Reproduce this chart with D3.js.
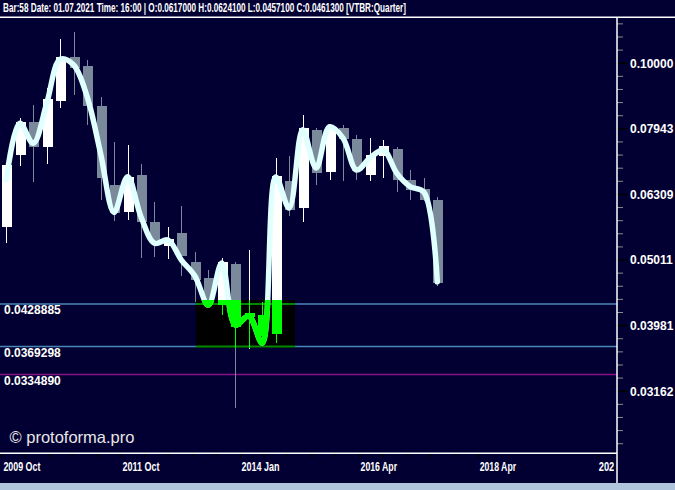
<!DOCTYPE html>
<html><head><meta charset="utf-8">
<script src="https://cdn.jsdelivr.net/npm/d3@7"></script>
<style>
html,body{margin:0;padding:0;background:#020032;}
svg{display:block;}
text{font-family:"Liberation Sans",Arial,sans-serif;}
</style></head>
<body><svg id="c" width="675" height="490"></svg>
<script>
// ---------- data ----------
const ticker = "VTBR", period = "Quarter";
const lastBarNo = 58, lastDate = "01.07.2021", lastTime = "16:00";
const opens  = [0.05623,0.07241,0.08129,0.07435,0.08751,0.10213,0.09885,0.08590,0.06517,0.05913,0.06750,0.05710,0.05255,0.05506,0.04973,0.04702,0.04272,0.04933,0.04096,0.04125,0.03854,0.06609,0.06006,0.07905,0.06805,0.07943,0.07659,0.06750,0.07198,0.07395,0.06633,0.06426,0.06170];
const highs  = [0.06974,0.08226,0.08620,0.09150,0.10867,0.11126,0.10095,0.08856,0.07571,0.07500,0.07016,0.06125,0.05612,0.06039,0.05151,0.04830,0.05038,0.04968,0.05182,0.04322,0.07158,0.07216,0.08323,0.07943,0.08064,0.08035,0.07768,0.07669,0.07632,0.07439,0.06870,0.06672,0.06241];
const lows   = [0.05305,0.06950,0.06570,0.07016,0.08521,0.08928,0.08035,0.06176,0.05730,0.05764,0.05033,0.05051,0.05015,0.04730,0.04317,0.04227,0.04125,0.02973,0.03657,0.03778,0.03735,0.05831,0.05723,0.06517,0.06633,0.06593,0.06633,0.06593,0.06672,0.06344,0.06166,0.06146,0.04571];
const closes = [0.06974,0.08129,0.07447,0.08803,0.10213,0.09816,0.08590,0.06679,0.05907,0.06702,0.05710,0.05329,0.05380,0.05074,0.04664,0.04302,0.04968,0.03959,0.04154,0.03831,0.06719,0.05970,0.07943,0.06798,0.07987,0.07659,0.06829,0.07241,0.07465,0.06633,0.06404,0.06170,0.04613];
const smooth = [0.06633,0.08084,0.07536,0.08671,0.10120,0.09920,0.08875,0.07277,0.05913,0.06702,0.05824,0.05305,0.05367,0.05003,0.04730,0.04272,0.04951,0.03982,0.04110,0.03739,0.06695,0.06005,0.07905,0.06910,0.07987,0.07677,0.06862,0.07158,0.07361,0.06782,0.06471,0.06352,0.04636];

const levelValues = [0.0428885, 0.0369298, 0.0334890];
const levelLabels = ["0.0428885", "0.0369298", "0.0334890"];
const levelColors = ["#4a86b8", "#4a86b8", "#8a108a"];

// zone: bar-index range and price range
const zoneFrom = 14.08, zoneTo = 21.42, zoneHi = 0.04348, zoneLo = 0.03674;

const yTickValues = [0.1, 0.0794328, 0.0630957, 0.0501187, 0.0398107, 0.0316228];
const yTickLabels = ["0.10000", "0.07943", "0.06309", "0.05011", "0.03981", "0.03162"];
const priceMin = 0.025387, priceMax = 0.117;

const xTickLabels = ["2009 Oct", "2011 Oct", "2014 Jan", "2016 Apr", "2018 Apr", "2020 Jul"];
const xTickWidths = [37, 37, 38, 36.5, 36.5, 37];

// ---------- drawing ----------
const W = 675, H = 490;
const BG = "#020032";
const plot = {left: 0, right: 617, top: 18, bottom: 453.3};
const svg = d3.select("#c");

svg.append("rect").attr("width", W).attr("height", H).attr("fill", BG);
svg.append("rect").attr("x", 0).attr("y", 483).attr("width", W).attr("height", 7).attr("fill", "#b0c4de");

const x = d3.scaleLinear().domain([0, opens.length - 1]).range([6.3, 437.3]);
const y = d3.scaleLog().domain([priceMin, priceMax]).range([plot.bottom, plot.top]);

const defs = svg.append("defs");
defs.append("clipPath").attr("id", "plotClip").append("rect")
  .attr("x", plot.left).attr("y", plot.top).attr("width", plot.right - plot.left).attr("height", plot.bottom - plot.top);
const zx0 = x(zoneFrom), zx1 = x(zoneTo), zy0 = y(zoneHi), zy1 = y(zoneLo);
defs.append("clipPath").attr("id", "zoneClip").append("rect")
  .attr("x", zx0).attr("y", zy0).attr("width", zx1 - zx0).attr("height", zy1 - zy0);
defs.append("clipPath").attr("id", "axisClip").append("rect")
  .attr("x", 0).attr("y", plot.bottom).attr("width", plot.right - 3).attr("height", 40);

const g = svg.append("g").attr("clip-path", "url(#plotClip)");

// level lines
levelValues.forEach((v, k) => {
  g.append("line").attr("x1", plot.left).attr("x2", plot.right)
    .attr("y1", y(v)).attr("y2", y(v))
    .attr("stroke", levelColors[k]).attr("stroke-width", 1.5);
});

// zone box
g.append("rect").attr("x", zx0).attr("y", zy0).attr("width", zx1 - zx0).attr("height", zy1 - zy0).attr("fill", "#000");
levelValues.forEach(v => {
  if (v <= zoneHi && v >= zoneLo) {
    g.append("line").attr("x1", zx0).attr("x2", zx1).attr("y1", y(v)).attr("y2", y(v))
      .attr("stroke", "#008a00").attr("stroke-width", 2);
  }
});

// candles
const candles = opens.map((o, i) => ({i, o, h: highs[i], l: lows[i], c: closes[i]}));
function drawCandles(parent, colorFn) {
  const cg = parent.append("g").attr("shape-rendering", "crispEdges");
  const sel = cg.selectAll("g").data(candles).join("g");
  sel.append("line")
    .attr("x1", d => Math.round(x(d.i)) + 0.5).attr("x2", d => Math.round(x(d.i)) + 0.5)
    .attr("y1", d => y(d.h)).attr("y2", d => y(d.l))
    .attr("stroke", colorFn).attr("stroke-width", 1);
  sel.append("rect")
    .attr("x", d => Math.round(x(d.i)) - 4)
    .attr("width", 10)
    .attr("y", d => y(Math.max(d.o, d.c)))
    .attr("height", d => Math.max(1, Math.abs(y(d.o) - y(d.c))))
    .attr("fill", colorFn);
}
const candleColor = d => d.c >= d.o ? "#ffffff" : "#7b8a9b";
drawCandles(g, candleColor);

// smoothed line
const lineGen = d3.line().x((d, i) => x(i)).y(d => y(d)).curve(d3.curveCatmullRom.alpha(0.5));
g.append("path").datum(smooth).attr("d", lineGen)
  .attr("fill", "none").attr("stroke", "#e0ffff").attr("stroke-width", 5.5)
  .attr("stroke-linejoin", "round").attr("stroke-linecap", "round");

// green highlight inside zone
const zg = g.append("g").attr("clip-path", "url(#zoneClip)");
drawCandles(zg, () => "#00ff00");
zg.append("path").datum(smooth).attr("d", lineGen)
  .attr("fill", "none").attr("stroke", "#00ff00").attr("stroke-width", 5.5)
  .attr("stroke-linejoin", "round").attr("stroke-linecap", "round");

// level labels
levelValues.forEach((v, k) => {
  svg.append("text").attr("x", 4).attr("y", y(v) + 10.5)
    .attr("fill", "#fff").attr("font-weight", "bold").attr("font-size", 12)
    .text(levelLabels[k]);
});

// watermark
svg.append("text").attr("x", 9.5).attr("y", 443)
  .attr("fill", "#e6e6e6").attr("font-size", 16.5)
  .text("\u00a9 protoforma.pro");

// right axis
const minorTicks = d3.range(-3, 30).filter(k => k % 5 !== 0).map(k => Math.pow(10, -1 - 0.02 * k));
const minorAxis = d3.axisRight(y).tickValues(minorTicks).tickSize(6).tickFormat("").tickSizeOuter(0);
const ma = svg.append("g").attr("transform", `translate(${plot.right},0)`).call(minorAxis);
ma.select(".domain").remove();
ma.selectAll(".tick line").attr("stroke", "#8a8a8a");
const majorAxis = d3.axisRight(y).tickValues(yTickValues).tickSize(10).tickPadding(3)
  .tickFormat((d, i) => yTickLabels[i]).tickSizeOuter(0);
const mj = svg.append("g").attr("transform", `translate(${plot.right},0)`).call(majorAxis);
mj.select(".domain").remove();
mj.selectAll(".tick line").attr("stroke", "#000").attr("stroke-width", 1.5);
mj.selectAll(".tick text").attr("fill", "#fff").attr("font-weight", "bold")
  .attr("font-size", 12).attr("font-family", '"Liberation Sans",Arial,sans-serif')
  .attr("x", 13).attr("dy", "0.36em");
svg.append("line").attr("x1", plot.right).attr("x2", plot.right).attr("y1", plot.top).attr("y2", 483)
  .attr("stroke", "#fff").attr("stroke-width", 1.5);

// bottom axis
const xd = d3.scaleLinear().domain([0, xTickLabels.length - 1]).range([1.4, 596.7]);
const ax = svg.append("g").attr("clip-path", "url(#axisClip)");
ax.append("line").attr("x1", 0).attr("x2", plot.right).attr("y1", plot.bottom).attr("y2", plot.bottom)
  .attr("stroke", "#fff").attr("stroke-width", 1.5);
const minorX = d3.range(0, 21).map(k => k / 5).concat([xTickLabels.length - 1]);
ax.selectAll("line.tk").data(minorX).join("line").attr("class", "tk")
  .attr("x1", d => Math.round(xd(d)) + 0.5).attr("x2", d => Math.round(xd(d)) + 0.5)
  .attr("y1", plot.bottom + 0.8).attr("y2", plot.bottom + 4)
  .attr("stroke", "#000").attr("stroke-width", 1.5);
ax.selectAll("text").data(xTickLabels).join("text")
  .attr("x", (d, i) => xd(i) + 2).attr("y", 470.7)
  .attr("fill", "#fff").attr("font-weight", "bold").attr("font-size", 12.5)
  .attr("textLength", (d, i) => xTickWidths[i]).attr("lengthAdjust", "spacingAndGlyphs")
  .text(d => d);
svg.append("line").attr("x1", 0).attr("x2", plot.right).attr("y1", plot.bottom).attr("y2", plot.bottom)
  .attr("stroke", "#fff").attr("stroke-width", 1.5);

// header
const n = opens.length - 1;
const header = `Bar:${lastBarNo} Date: ${lastDate} Time: ${lastTime} | O:${opens[n].toFixed(7)} H:${highs[n].toFixed(7)} L:${lows[n].toFixed(7)} C:${closes[n].toFixed(7)} [${ticker}:${period}]`;
svg.append("text").attr("x", 3).attr("y", 12.3).attr("fill", "#fff")
  .attr("font-weight", "bold").attr("font-size", 13)
  .attr("textLength", 403).attr("lengthAdjust", "spacingAndGlyphs")
  .text(header);
svg.append("line").attr("x1", 0).attr("x2", W).attr("y1", 17.3).attr("y2", 17.3)
  .attr("stroke", "#fff").attr("stroke-width", 1.5);
</script>
</body></html>
